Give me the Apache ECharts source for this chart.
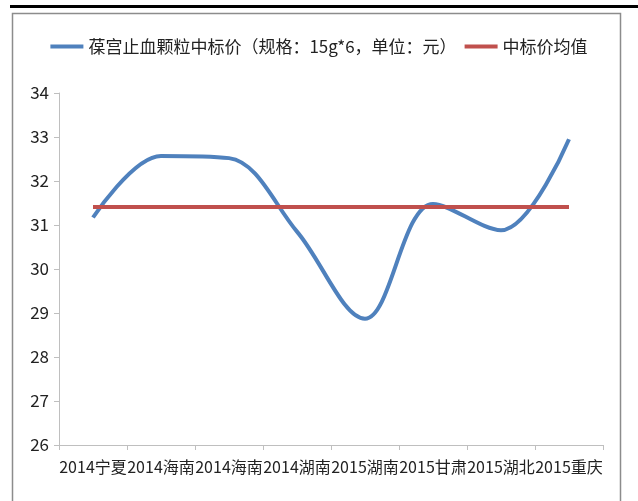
<!DOCTYPE html>
<html>
<head>
<meta charset="utf-8">
<script src="https://cdn.jsdelivr.net/npm/echarts@6/dist/echarts.min.js"></script>
<style>
  html, body { margin: 0; padding: 0; background: #fff; }
  #main { width: 638px; height: 501px; }
</style>
</head>
<body>
<div id="main"></div>
<script>
// 数据
var categories = ["2014宁夏", "2014海南", "2014海南", "2014湖南", "2015湖南", "2015甘肃", "2015湖北", "2015重庆"];
var priceValues = [31.17, 32.57, 32.52, 30.85, 28.87, 31.48, 30.88, 32.95];
var avgValue = 31.41;
var avgValues = categories.map(function () { return avgValue; });
var yTicks = [26, 27, 28, 29, 30, 31, 32, 33, 34];

var font = "'Noto Sans CJK SC', 'Liberation Sans', sans-serif";

var myChart = echarts.init(document.getElementById("main"));
myChart.setOption({
  animation: false,
  backgroundColor: "#fff",
  textStyle: { fontFamily: font },
  graphic: [
    {
      type: "rect",
      shape: { x: 10, y: 5, width: 628, height: 3 },
      style: { fill: "#000" }
    },
    {
      type: "rect",
      shape: { x: 12.5, y: 13.5, width: 608, height: 500 },
      style: { fill: "none", stroke: "#8c8c8c", lineWidth: 1.5 }
    }
  ],
  legend: {
    left: "center",
    top: 33,
    icon: "rect",
    itemWidth: 33,
    itemHeight: 4,
    itemGap: 8,
    textStyle: { fontSize: 17, color: "#222", fontFamily: font },
    data: ["葆宫止血颗粒中标价（规格：15g*6，单位：元）", "中标价均值"]
  },
  grid: {
    left: 59,
    right: 35,
    top: 93,
    bottom: 56
  },
  xAxis: {
    type: "category",
    data: categories,
    boundaryGap: true,
    axisLine: { lineStyle: { color: "#bfbfbf", width: 1 } },
    axisTick: { show: true, length: 5, lineStyle: { color: "#bfbfbf" } },
    axisLabel: {
      interval: 0,
      color: "#222",
      fontSize: 16,
      margin: 14,
      fontFamily: font
    }
  },
  yAxis: {
    type: "value",
    min: yTicks[0],
    max: yTicks[yTicks.length - 1],
    interval: 1,
    splitLine: { show: false },
    axisLine: { show: true, lineStyle: { color: "#bfbfbf", width: 1 } },
    axisTick: { show: true, length: 5, lineStyle: { color: "#bfbfbf" } },
    axisLabel: {
      color: "#222",
      fontSize: 17,
      margin: 10,
      fontFamily: font
    }
  },
  series: [
    {
      name: "葆宫止血颗粒中标价（规格：15g*6，单位：元）",
      type: "line",
      smooth: 0.35,
      symbol: "none",
      data: priceValues,
      lineStyle: { color: "#4f81bd", width: 4 },
      itemStyle: { color: "#4f81bd" },
      z: 2
    },
    {
      name: "中标价均值",
      type: "line",
      symbol: "none",
      data: avgValues.map(function (v, i) {
        if (i === avgValues.length - 1) {
          return {
            value: v,
            label: {
              show: true,
              position: "bottom",
              distance: 22,
              fontSize: 16,
              color: "#222",
              fontFamily: font,
              formatter: function (p) { return p.value.toFixed(2); }
            }
          };
        }
        return v;
      }),
      lineStyle: { color: "#c0504d", width: 4 },
      itemStyle: { color: "#c0504d" },
      z: 3
    }
  ]
});
</script>
</body>
</html>
